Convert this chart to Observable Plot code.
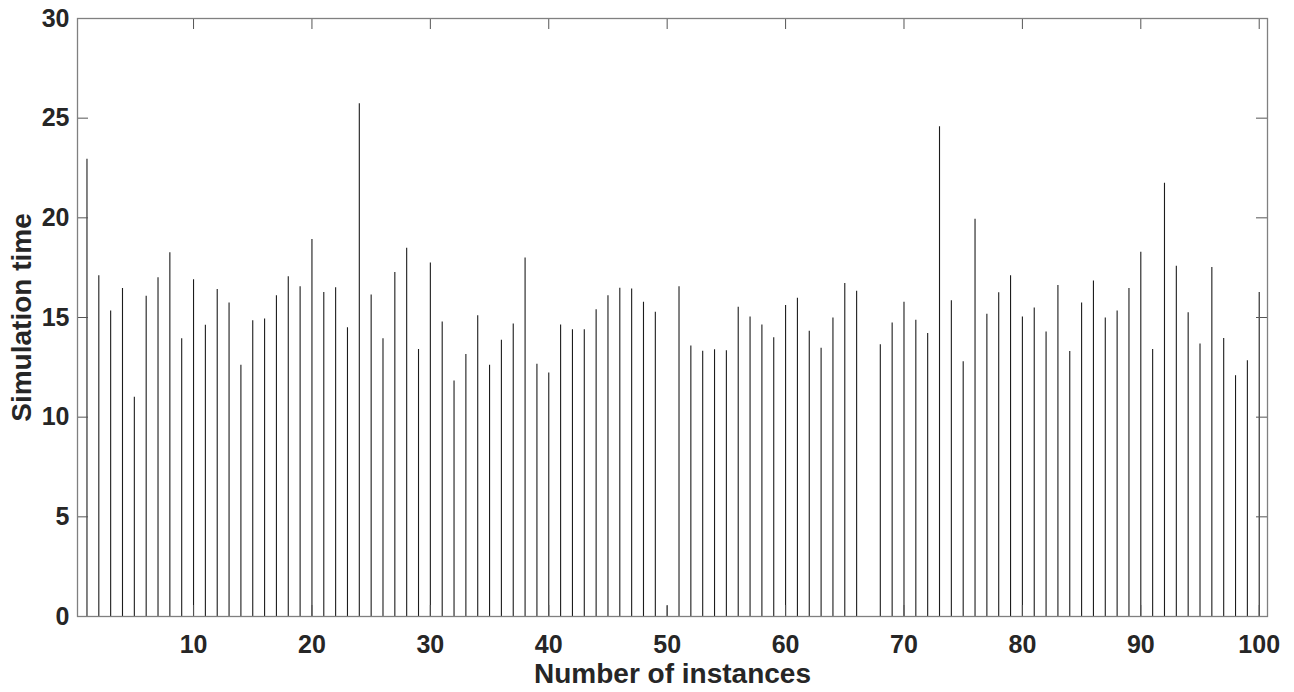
<!DOCTYPE html>
<html>
<head>
<meta charset="utf-8">
<script src="https://cdn.jsdelivr.net/npm/d3@7"></script>
<script src="https://cdn.jsdelivr.net/npm/@observablehq/plot@0.6"></script>
<style>
  html, body { margin: 0; padding: 0; background: #fff; }
  #chart svg { display: block; }
</style>
</head>
<body>
<div id="chart"></div>
<script>
// Simulation time for each instance
const times = [
  22.94, 17.09, 15.33, 16.45, 11.00, 16.07, 17.00, 18.25, 13.93, 16.90,
  14.61, 16.41, 15.73, 12.61, 14.84, 14.92, 16.09, 17.04, 16.54, 18.91,
  16.26, 16.49, 14.48, 25.72, 16.13, 13.93, 17.26, 18.47, 13.40, 17.74,
  14.78, 11.81, 13.14, 15.09, 12.61, 13.86, 14.67, 17.98, 12.66, 12.21,
  14.63, 14.39, 14.39, 15.39, 16.09, 16.47, 16.43, 15.77, 15.26, 0.53,
  16.54, 13.57, 13.31, 13.38, 13.33, 15.52, 15.03, 14.63, 13.99, 15.60,
  15.96, 14.31, 13.46, 14.97, 16.71, 16.32, 0, 13.63, 14.73, 15.77,
  14.86, 14.20, 24.57, 15.84, 12.78, 19.93, 15.16, 16.24, 17.09, 15.03,
  15.48, 14.27, 16.60, 13.29, 15.73, 16.83, 14.97, 15.33, 16.45, 18.27,
  13.40, 21.73, 17.57, 15.24, 13.67, 17.51, 13.95, 12.08, 12.83, 16.26
];
const instances = times.map((_, i) => i + 1);
const xTicks = [10, 20, 30, 40, 50, 60, 70, 80, 90, 100];
const yTicks = [0, 5, 10, 15, 20, 25, 30];
const xLabel = "Number of instances";
const yLabel = "Simulation time";

const data = instances.map((n, i) => ({n, t: times[i]}));

const W = 1294, H = 692;
const mL = 77, mR = 27, mT = 18, mB = 76;
const iw = W - mL - mR, ih = H - mT - mB;
const tickLen = 11;
const font = "'Liberation Sans', Arial, Helvetica, sans-serif";
const ink = "#262626";

const chart = Plot.plot({
  width: W,
  height: H,
  marginLeft: mL,
  marginRight: mR,
  marginTop: mT,
  marginBottom: mB,
  style: {fontFamily: font, background: "#fff", color: ink},
  x: {domain: [0.2, 100.7]},
  y: {domain: [0, 30]},
  marks: [
    Plot.ruleX(data, {x: "n", y1: 0, y2: "t", stroke: "#1c1c1c", strokeWidth: 1.1}),
    Plot.tickX(xTicks, {x: d => d, insetTop: ih - tickLen, stroke: "#555"}),
    Plot.tickX(xTicks, {x: d => d, insetBottom: ih - tickLen, stroke: "#555"}),
    Plot.tickY(yTicks, {y: d => d, insetRight: iw - tickLen, stroke: "#555"}),
    Plot.tickY(yTicks, {y: d => d, insetLeft: iw - tickLen, stroke: "#555"}),
    Plot.frame({stroke: "#808080", strokeWidth: 1.3}),
    Plot.axisX(xTicks, {tickSize: 0, tickPadding: 19, fontSize: 25, fontWeight: "bold", fill: ink, label: null}),
    Plot.axisY(yTicks, {tickSize: 0, tickPadding: 8, fontSize: 25, fontWeight: "bold", fill: ink, label: null}),
    Plot.text([xLabel], {text: d => d, frameAnchor: "bottom", textAnchor: "middle", dy: 58, lineAnchor: "middle", fontSize: 28, fontWeight: "bold", fill: ink}),
    Plot.text([yLabel], {text: d => d, frameAnchor: "left", textAnchor: "middle", dx: -55, rotate: -90, lineAnchor: "middle", fontSize: 28, fontWeight: "bold", fill: ink})
  ]
});
document.getElementById("chart").append(chart);
</script>
</body>
</html>
